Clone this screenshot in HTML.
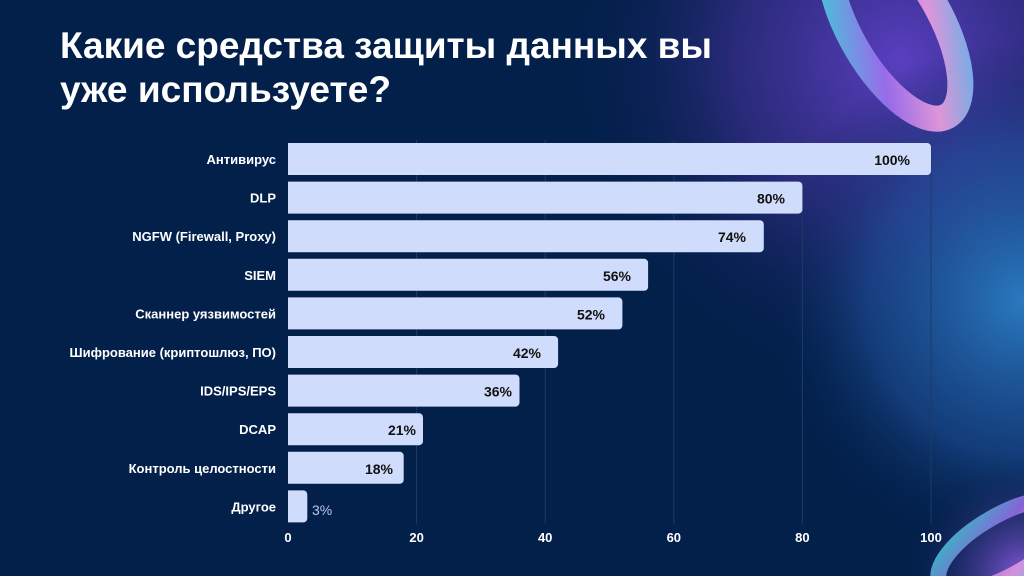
<!DOCTYPE html>
<html><head><meta charset="utf-8"><style>
html,body{margin:0;padding:0;width:1024px;height:576px;overflow:hidden;background:#03204b}
svg{display:block;overflow:hidden}
</style></head><body>
<svg width="1024" height="576" viewBox="0 0 1024 576" xmlns="http://www.w3.org/2000/svg">
<defs>
<radialGradient id="g1" cx="900" cy="60" r="330" gradientUnits="userSpaceOnUse">
<stop offset="0" stop-color="#5a3fc0"/><stop offset="0.5" stop-color="#3a2f8e" stop-opacity="0.7"/><stop offset="1" stop-color="#03204b" stop-opacity="0"/></radialGradient>
<radialGradient id="g2" cx="1024" cy="300" r="260" gradientUnits="userSpaceOnUse">
<stop offset="0" stop-color="#2a7ac0"/><stop offset="0.6" stop-color="#1e4f98" stop-opacity="0.6"/><stop offset="1" stop-color="#03204b" stop-opacity="0"/></radialGradient>
<radialGradient id="g3" cx="1024" cy="576" r="120" gradientUnits="userSpaceOnUse">
<stop offset="0" stop-color="#8a5ae0"/><stop offset="1" stop-color="#03204b" stop-opacity="0"/></radialGradient>
<linearGradient id="ring" x1="0" y1="0" x2="1" y2="1">
<stop offset="0" stop-color="#3fe0e0"/><stop offset="0.4" stop-color="#a070f0"/><stop offset="0.7" stop-color="#f0a0e0"/><stop offset="1" stop-color="#60c0f0"/></linearGradient>
</defs>
<rect width="1024" height="576" fill="#03204b"/>
<rect width="1024" height="576" fill="url(#g1)"/>
<rect width="1024" height="576" fill="url(#g2)"/>
<rect width="1024" height="576" fill="url(#g3)"/>
<ellipse cx="895" cy="25" rx="45" ry="105" transform="rotate(-30 895 25)" fill="none" stroke="url(#ring)" stroke-width="26" opacity="0.9"/>
<ellipse cx="1005" cy="545" rx="75" ry="30" transform="rotate(-30 1005 545)" fill="none" stroke="url(#ring)" stroke-width="16" opacity="0.8"/>
<g font-family="Liberation Sans, sans-serif" font-weight="bold" fill="#fff">
<text x="60" y="58" font-size="37" textLength="652" lengthAdjust="spacingAndGlyphs">Какие средства защиты данных вы</text>
<text x="60" y="102" font-size="37" textLength="331" lengthAdjust="spacingAndGlyphs">уже используете?</text>
</g>
<g stroke="#1d3a68" stroke-width="1">
<line x1="416.6" y1="140" x2="416.6" y2="524"/><line x1="545.2" y1="140" x2="545.2" y2="524"/>
<line x1="673.8" y1="140" x2="673.8" y2="524"/><line x1="802.4" y1="140" x2="802.4" y2="524"/>
<line x1="931" y1="140" x2="931" y2="524"/>
</g>
<g fill="#d0dcfb">
<rect x="284" y="143" width="647" height="32" rx="4"/>
<rect x="284" y="181.6" width="518.4" height="32" rx="4"/>
<rect x="284" y="220.2" width="479.8" height="32" rx="4"/>
<rect x="284" y="258.8" width="364.1" height="32" rx="4"/>
<rect x="284" y="297.4" width="338.4" height="32" rx="4"/>
<rect x="284" y="336" width="274.1" height="32" rx="4"/>
<rect x="284" y="374.6" width="235.5" height="32" rx="4"/>
<rect x="284" y="413.2" width="139" height="32" rx="4"/>
<rect x="284" y="451.8" width="119.7" height="32" rx="4"/>
<rect x="284" y="490.4" width="23.3" height="32" rx="4"/>
</g>
<rect x="284" y="140" width="4" height="384" fill="#03204b"/>
<g font-family="Liberation Sans, sans-serif" font-weight="bold" font-size="13" fill="#fff" text-anchor="end">
<text x="276" y="164">Антивирус</text>
<text x="276" y="202.6">DLP</text>
<text x="276" y="241.2">NGFW (Firewall, Proxy)</text>
<text x="276" y="279.8">SIEM</text>
<text x="276" y="318.4">Сканнер уязвимостей</text>
<text x="276" y="357">Шифрование (криптошлюз, ПО)</text>
<text x="276" y="395.6">IDS/IPS/EPS</text>
<text x="276" y="434.2">DCAP</text>
<text x="276" y="472.8">Контроль целостности</text>
<text x="276" y="511.4">Другое</text>
</g>
<g font-family="Liberation Sans, sans-serif" font-weight="bold" font-size="14" fill="#111" text-anchor="end">
<text x="910" y="165">100%</text>
<text x="785" y="203.6">80%</text>
<text x="746" y="242.2">74%</text>
<text x="631" y="280.8">56%</text>
<text x="605" y="319.4">52%</text>
<text x="541" y="358">42%</text>
<text x="512" y="396.6">36%</text>
<text x="416" y="435.2">21%</text>
<text x="393" y="473.8">18%</text>
</g>
<text x="312" y="515" font-family="Liberation Sans, sans-serif" font-size="14" fill="#b8c6e8">3%</text>
<g font-family="Liberation Sans, sans-serif" font-weight="bold" font-size="13" fill="#fff" text-anchor="middle">
<text x="288" y="542">0</text><text x="416.6" y="542">20</text><text x="545.2" y="542">40</text>
<text x="673.8" y="542">60</text><text x="802.4" y="542">80</text><text x="931" y="542">100</text>
</g>
</svg>
</body></html>
